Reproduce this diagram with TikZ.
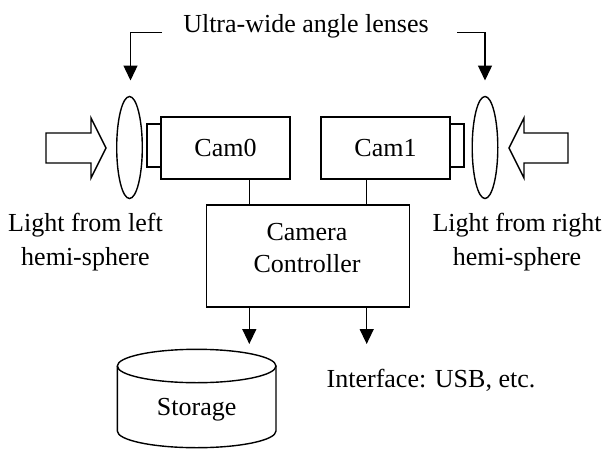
\documentclass[tikz,border=0pt]{standalone}
\usepackage{fontspec}
\setmainfont{Liberation Serif}
\usetikzlibrary{arrows.meta,shapes.geometric}
\tikzset{
  lw/.style={line width=1.4pt},
  txt/.style={font=\fontsize{26}{33}\selectfont, inner sep=0pt, align=center},
  boxnode/.style={lw, draw, inner sep=0pt},
  lensnode/.style={lw, draw, ellipse, minimum width=25.6pt, minimum height=102pt, inner sep=0pt},
  tipped/.style={lw, -{Triangle[length=15pt,width=14pt]}},
  plain/.style={lw}
}
\begin{document}
\begin{tikzpicture}[x=1pt,y=-1pt]
\useasboundingbox (0,0) rectangle (605,450);
% title
\node[txt] (title) at (306,26) {Ultra-wide angle lenses};
% lenses
\node[lensnode] (lensL) at (129.5,147.5) {};
\node[lensnode] (lensR) at (485,147.5) {};
% bracket arrows
\coordinate (bl) at (162,32.5);
\coordinate (blc) at (130.5,32.5);
\coordinate (br) at (457,32.5);
\coordinate (brc) at (485,32.5);
\coordinate (tipL) at (130.5,80.5);
\coordinate (tipR) at (485,80.5);
\draw[tipped] (bl) -- (blc) -- (tipL);
\draw[tipped] (br) -- (brc) -- (tipR);
% cameras
\node[boxnode, minimum width=129pt, minimum height=62pt, txt] (cam0) at (225.5,148) {Cam0};
\node[boxnode, minimum width=129pt, minimum height=62pt, txt] (cam1) at (385.5,148) {Cam1};
\node[boxnode, minimum width=14pt, minimum height=43pt] (mount0) at (154,145.5) {};
\node[boxnode, minimum width=14pt, minimum height=43pt] (mount1) at (457,145.5) {};
% hollow arrows
\draw[lw] (46,133) -- (91,133) -- (91,118) -- (106,148) -- (91,178) -- (91,163) -- (46,163) -- cycle;
\draw[lw] (568,133) -- (524,133) -- (524,118) -- (509,148) -- (524,178) -- (524,163) -- (568,163) -- cycle;
% light labels
\node[txt, font=\fontsize{26}{34.5}\selectfont] (lightL) at (85.5,242) {Light from left\\hemi-sphere};
\node[txt, font=\fontsize{26}{34.5}\selectfont] (lightR) at (517,242) {Light from right\\hemi-sphere};
% controller
\node[boxnode, minimum width=202.6pt, minimum height=102pt] (ctrl) at (308,256) {};
\node[txt, font=\fontsize{26}{31.7}\selectfont] (ctrltxt) at (307,248) {Camera\\Controller};
\draw[plain] (cam0.south -| 249.3,0) -- (ctrl.north -| 249.3,0);
\draw[plain] (cam1.south -| 366.7,0) -- (ctrl.north -| 366.7,0);
% storage
\coordinate (stTop) at (249.3,344);
\coordinate (ifTop) at (366.7,344);
\draw[tipped] (ctrl.south -| 249.3,0) -- (stTop);
\draw[tipped] (ctrl.south -| 366.7,0) -- (ifTop);
\draw[lw] (196.65,366) ellipse [x radius=79.35, y radius=16.7];
\draw[lw] (117.3,366) -- (117.3,431) arc[start angle=180, end angle=0, x radius=79.35, y radius=16.7] -- (276,366);
\node[txt] (storage) at (196.7,410) {Storage};
\node[txt, anchor=west] (iface) at (326.5,380) {Interface: USB, etc.};
\end{tikzpicture}
\end{document}
